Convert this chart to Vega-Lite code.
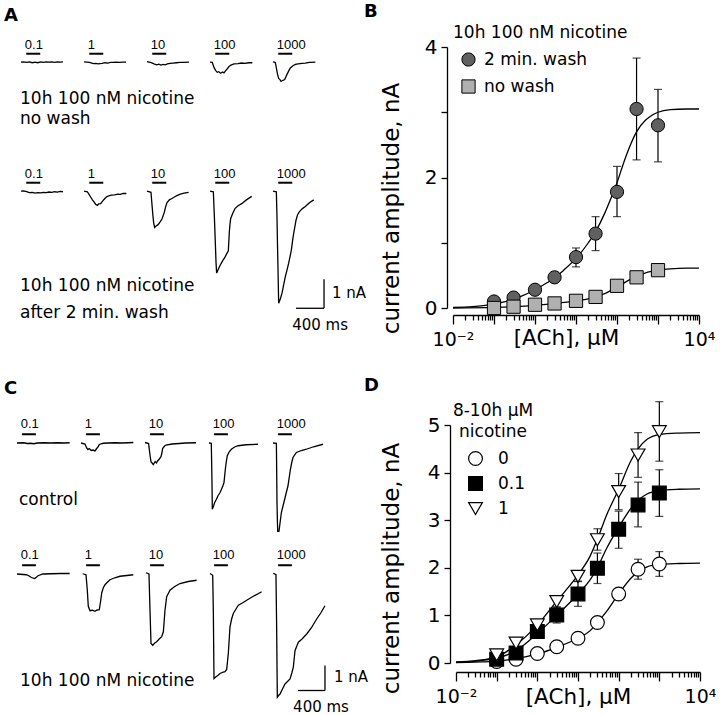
{
"$schema": "https://vega.github.io/schema/vega-lite/v6.json",
"background": "white",
"padding": {"left": 4, "top": 3, "right": 5, "bottom": 5},
"datasets": {
"A": [
{"c":"nw","k":"0.1","kind":"lab"},{"c":"nw","k":"1","kind":"lab"},{"c":"nw","k":"10","kind":"lab"},{"c":"nw","k":"100","kind":"lab"},{"c":"nw","k":"1000","kind":"lab"},
{"c":"w","k":"0.1","kind":"lab"},{"c":"w","k":"1","kind":"lab"},{"c":"w","k":"10","kind":"lab"},{"c":"w","k":"100","kind":"lab"},{"c":"w","k":"1000","kind":"lab"},
{"c":"nw","k":"0.1","kind":"note","txt":"10h 100 nM nicotine\nno wash"},
{"c":"w","k":"0.1","kind":"note","txt":"10h 100 nM nicotine\nafter 2 min. wash"},
{"c":"w","k":"1000","kind":"scale"},
{"c":"nw","k":"0.1","t":0,"i":0},{"c":"nw","k":"0.1","t":40,"i":0.01},{"c":"nw","k":"0.1","t":80,"i":-0.01},{"c":"nw","k":"0.1","t":120,"i":0.01},{"c":"nw","k":"0.1","t":160,"i":-0.02},{"c":"nw","k":"0.1","t":200,"i":0},{"c":"nw","k":"0.1","t":240,"i":-0.02},{"c":"nw","k":"0.1","t":280,"i":0.01},{"c":"nw","k":"0.1","t":320,"i":-0.01},{"c":"nw","k":"0.1","t":360,"i":0.01},{"c":"nw","k":"0.1","t":400,"i":0},{"c":"nw","k":"0.1","t":440,"i":0.01},{"c":"nw","k":"0.1","t":480,"i":-0.01},{"c":"nw","k":"0.1","t":520,"i":0.01},{"c":"nw","k":"0.1","t":560,"i":0},{"c":"nw","k":"0.1","t":600,"i":0.01},
{"c":"nw","k":"1","t":0,"i":0.01},{"c":"nw","k":"1","t":40,"i":0},{"c":"nw","k":"1","t":80,"i":-0.01},{"c":"nw","k":"1","t":110,"i":-0.03},{"c":"nw","k":"1","t":140,"i":-0.05},{"c":"nw","k":"1","t":170,"i":-0.04},{"c":"nw","k":"1","t":200,"i":-0.06},{"c":"nw","k":"1","t":230,"i":-0.05},{"c":"nw","k":"1","t":260,"i":-0.04},{"c":"nw","k":"1","t":300,"i":-0.02},{"c":"nw","k":"1","t":340,"i":-0.03},{"c":"nw","k":"1","t":380,"i":-0.01},{"c":"nw","k":"1","t":420,"i":-0.01},{"c":"nw","k":"1","t":460,"i":0},{"c":"nw","k":"1","t":500,"i":-0.01},{"c":"nw","k":"1","t":550,"i":0},{"c":"nw","k":"1","t":600,"i":0},
{"c":"nw","k":"10","t":0,"i":0.02},{"c":"nw","k":"10","t":30,"i":0},{"c":"nw","k":"10","t":60,"i":-0.02},{"c":"nw","k":"10","t":100,"i":-0.06},{"c":"nw","k":"10","t":140,"i":-0.09},{"c":"nw","k":"10","t":170,"i":-0.07},{"c":"nw","k":"10","t":200,"i":-0.1},{"c":"nw","k":"10","t":230,"i":-0.08},{"c":"nw","k":"10","t":260,"i":-0.09},{"c":"nw","k":"10","t":290,"i":-0.06},{"c":"nw","k":"10","t":330,"i":-0.04},{"c":"nw","k":"10","t":370,"i":-0.03},{"c":"nw","k":"10","t":420,"i":-0.02},{"c":"nw","k":"10","t":470,"i":-0.01},{"c":"nw","k":"10","t":520,"i":-0.01},{"c":"nw","k":"10","t":600,"i":0},
{"c":"nw","k":"100","t":0,"i":0},{"c":"nw","k":"100","t":33,"i":-0.01},{"c":"nw","k":"100","t":57,"i":-0.18},{"c":"nw","k":"100","t":80,"i":-0.28},{"c":"nw","k":"100","t":104,"i":-0.35},{"c":"nw","k":"100","t":125,"i":-0.33},{"c":"nw","k":"100","t":152,"i":-0.38},{"c":"nw","k":"100","t":180,"i":-0.34},{"c":"nw","k":"100","t":200,"i":-0.37},{"c":"nw","k":"100","t":224,"i":-0.29},{"c":"nw","k":"100","t":250,"i":-0.22},{"c":"nw","k":"100","t":271,"i":-0.15},{"c":"nw","k":"100","t":300,"i":-0.1},{"c":"nw","k":"100","t":343,"i":-0.06},{"c":"nw","k":"100","t":400,"i":-0.05},{"c":"nw","k":"100","t":450,"i":-0.03},{"c":"nw","k":"100","t":500,"i":-0.04},{"c":"nw","k":"100","t":550,"i":-0.02},{"c":"nw","k":"100","t":605,"i":-0.02},
{"c":"nw","k":"1000","t":0,"i":0.01},{"c":"nw","k":"1000","t":20,"i":0},{"c":"nw","k":"1000","t":34,"i":-0.02},{"c":"nw","k":"1000","t":48,"i":-0.2},{"c":"nw","k":"1000","t":65,"i":-0.42},{"c":"nw","k":"1000","t":81,"i":-0.56},{"c":"nw","k":"1000","t":100,"i":-0.6},{"c":"nw","k":"1000","t":115,"i":-0.66},{"c":"nw","k":"1000","t":129,"i":-0.64},{"c":"nw","k":"1000","t":150,"i":-0.62},{"c":"nw","k":"1000","t":167,"i":-0.6},{"c":"nw","k":"1000","t":185,"i":-0.5},{"c":"nw","k":"1000","t":200,"i":-0.42},{"c":"nw","k":"1000","t":225,"i":-0.3},{"c":"nw","k":"1000","t":248,"i":-0.2},{"c":"nw","k":"1000","t":280,"i":-0.13},{"c":"nw","k":"1000","t":319,"i":-0.08},{"c":"nw","k":"1000","t":360,"i":-0.06},{"c":"nw","k":"1000","t":414,"i":-0.04},{"c":"nw","k":"1000","t":460,"i":-0.03},{"c":"nw","k":"1000","t":520,"i":-0.01},{"c":"nw","k":"1000","t":605,"i":0},
{"c":"w","k":"0.1","t":0,"i":0},{"c":"w","k":"0.1","t":40,"i":0.01},{"c":"w","k":"0.1","t":80,"i":-0.02},{"c":"w","k":"0.1","t":120,"i":-0.05},{"c":"w","k":"0.1","t":160,"i":-0.04},{"c":"w","k":"0.1","t":200,"i":-0.07},{"c":"w","k":"0.1","t":240,"i":-0.05},{"c":"w","k":"0.1","t":280,"i":-0.06},{"c":"w","k":"0.1","t":320,"i":-0.04},{"c":"w","k":"0.1","t":360,"i":-0.05},{"c":"w","k":"0.1","t":400,"i":-0.03},{"c":"w","k":"0.1","t":440,"i":-0.04},{"c":"w","k":"0.1","t":480,"i":-0.02},{"c":"w","k":"0.1","t":520,"i":-0.03},{"c":"w","k":"0.1","t":560,"i":-0.01},{"c":"w","k":"0.1","t":600,"i":-0.02},
{"c":"w","k":"1","t":0,"i":0},{"c":"w","k":"1","t":47,"i":-0.02},{"c":"w","k":"1","t":70,"i":-0.1},{"c":"w","k":"1","t":95,"i":-0.2},{"c":"w","k":"1","t":120,"i":-0.3},{"c":"w","k":"1","t":143,"i":-0.37},{"c":"w","k":"1","t":165,"i":-0.45},{"c":"w","k":"1","t":190,"i":-0.49},{"c":"w","k":"1","t":210,"i":-0.44},{"c":"w","k":"1","t":238,"i":-0.43},{"c":"w","k":"1","t":265,"i":-0.34},{"c":"w","k":"1","t":295,"i":-0.26},{"c":"w","k":"1","t":320,"i":-0.2},{"c":"w","k":"1","t":343,"i":-0.17},{"c":"w","k":"1","t":390,"i":-0.14},{"c":"w","k":"1","t":438,"i":-0.13},{"c":"w","k":"1","t":480,"i":-0.1},{"c":"w","k":"1","t":520,"i":-0.11},{"c":"w","k":"1","t":560,"i":-0.08},{"c":"w","k":"1","t":605,"i":-0.08},
{"c":"w","k":"10","t":0,"i":0},{"c":"w","k":"10","t":57,"i":-0.04},{"c":"w","k":"10","t":71,"i":-0.45},{"c":"w","k":"10","t":85,"i":-0.85},{"c":"w","k":"10","t":95,"i":-1.08},{"c":"w","k":"10","t":109,"i":-1.25},{"c":"w","k":"10","t":130,"i":-1.2},{"c":"w","k":"10","t":150,"i":-1.17},{"c":"w","k":"10","t":166,"i":-1.13},{"c":"w","k":"10","t":190,"i":-1.05},{"c":"w","k":"10","t":214,"i":-0.96},{"c":"w","k":"10","t":230,"i":-0.85},{"c":"w","k":"10","t":247,"i":-0.73},{"c":"w","k":"10","t":265,"i":-0.55},{"c":"w","k":"10","t":286,"i":-0.39},{"c":"w","k":"10","t":320,"i":-0.3},{"c":"w","k":"10","t":350,"i":-0.26},{"c":"w","k":"10","t":381,"i":-0.22},{"c":"w","k":"10","t":420,"i":-0.16},{"c":"w","k":"10","t":476,"i":-0.1},{"c":"w","k":"10","t":530,"i":-0.07},{"c":"w","k":"10","t":595,"i":-0.04},
{"c":"w","k":"100","t":0,"i":0},{"c":"w","k":"100","t":48,"i":-0.02},{"c":"w","k":"100","t":62,"i":-0.84},{"c":"w","k":"100","t":75,"i":-1.7},{"c":"w","k":"100","t":86,"i":-2.45},{"c":"w","k":"100","t":95,"i":-2.82},{"c":"w","k":"100","t":120,"i":-2.68},{"c":"w","k":"100","t":143,"i":-2.56},{"c":"w","k":"100","t":180,"i":-2.4},{"c":"w","k":"100","t":214,"i":-2.27},{"c":"w","k":"100","t":240,"i":-2.15},{"c":"w","k":"100","t":262,"i":-2.05},{"c":"w","k":"100","t":276,"i":-1.41},{"c":"w","k":"100","t":285,"i":-1.15},{"c":"w","k":"100","t":295,"i":-0.95},{"c":"w","k":"100","t":325,"i":-0.76},{"c":"w","k":"100","t":357,"i":-0.6},{"c":"w","k":"100","t":400,"i":-0.5},{"c":"w","k":"100","t":453,"i":-0.43},{"c":"w","k":"100","t":520,"i":-0.3},{"c":"w","k":"100","t":596,"i":-0.18},
{"c":"w","k":"1000","t":0,"i":0},{"c":"w","k":"1000","t":48,"i":-0.02},{"c":"w","k":"1000","t":57,"i":-0.88},{"c":"w","k":"1000","t":64,"i":-1.8},{"c":"w","k":"1000","t":71,"i":-2.6},{"c":"w","k":"1000","t":81,"i":-3.86},{"c":"w","k":"1000","t":105,"i":-3.7},{"c":"w","k":"1000","t":129,"i":-3.51},{"c":"w","k":"1000","t":150,"i":-3.25},{"c":"w","k":"1000","t":176,"i":-2.94},{"c":"w","k":"1000","t":200,"i":-2.72},{"c":"w","k":"1000","t":224,"i":-2.48},{"c":"w","k":"1000","t":262,"i":-2.03},{"c":"w","k":"1000","t":280,"i":-1.7},{"c":"w","k":"1000","t":295,"i":-1.46},{"c":"w","k":"1000","t":329,"i":-1.0},{"c":"w","k":"1000","t":350,"i":-0.82},{"c":"w","k":"1000","t":376,"i":-0.71},{"c":"w","k":"1000","t":420,"i":-0.6},{"c":"w","k":"1000","t":462,"i":-0.53},{"c":"w","k":"1000","t":520,"i":-0.4},{"c":"w","k":"1000","t":581,"i":-0.3}
],
"C": [
{"c":"ctl","k":"0.1","kind":"lab"},{"c":"ctl","k":"1","kind":"lab"},{"c":"ctl","k":"10","kind":"lab"},{"c":"ctl","k":"100","kind":"lab"},{"c":"ctl","k":"1000","kind":"lab"},
{"c":"nic","k":"0.1","kind":"lab"},{"c":"nic","k":"1","kind":"lab"},{"c":"nic","k":"10","kind":"lab"},{"c":"nic","k":"100","kind":"lab"},{"c":"nic","k":"1000","kind":"lab"},
{"c":"ctl","k":"0.1","kind":"note","txt":"control"},
{"c":"nic","k":"0.1","kind":"note","txt":"10h 100 nM nicotine"},
{"c":"nic","k":"1000","kind":"scale"},
{"c":"ctl","k":"0.1","t":0,"i":0},{"c":"ctl","k":"0.1","t":100,"i":0.01},{"c":"ctl","k":"0.1","t":150,"i":-0.02},{"c":"ctl","k":"0.1","t":200,"i":-0.01},{"c":"ctl","k":"0.1","t":250,"i":-0.03},{"c":"ctl","k":"0.1","t":300,"i":0},{"c":"ctl","k":"0.1","t":400,"i":0.01},{"c":"ctl","k":"0.1","t":500,"i":0},{"c":"ctl","k":"0.1","t":600,"i":0.01},{"c":"ctl","k":"0.1","t":700,"i":0},{"c":"ctl","k":"0.1","t":780,"i":0.01},
{"c":"ctl","k":"1","t":0,"i":0},{"c":"ctl","k":"1","t":59,"i":-0.04},{"c":"ctl","k":"1","t":84,"i":-0.2},{"c":"ctl","k":"1","t":103,"i":-0.26},{"c":"ctl","k":"1","t":123,"i":-0.22},{"c":"ctl","k":"1","t":150,"i":-0.3},{"c":"ctl","k":"1","t":182,"i":-0.28},{"c":"ctl","k":"1","t":205,"i":-0.32},{"c":"ctl","k":"1","t":232,"i":-0.22},{"c":"ctl","k":"1","t":255,"i":-0.15},{"c":"ctl","k":"1","t":271,"i":-0.06},{"c":"ctl","k":"1","t":300,"i":-0.03},{"c":"ctl","k":"1","t":331,"i":-0.01},{"c":"ctl","k":"1","t":400,"i":0},{"c":"ctl","k":"1","t":500,"i":0.01},{"c":"ctl","k":"1","t":600,"i":0},{"c":"ctl","k":"1","t":700,"i":0.01},{"c":"ctl","k":"1","t":775,"i":0.02},
{"c":"ctl","k":"10","t":0,"i":0.02},{"c":"ctl","k":"10","t":53,"i":-0.02},{"c":"ctl","k":"10","t":74,"i":-0.48},{"c":"ctl","k":"10","t":89,"i":-0.75},{"c":"ctl","k":"10","t":105,"i":-0.8},{"c":"ctl","k":"10","t":123,"i":-0.86},{"c":"ctl","k":"10","t":150,"i":-0.74},{"c":"ctl","k":"10","t":170,"i":-0.8},{"c":"ctl","k":"10","t":187,"i":-0.72},{"c":"ctl","k":"10","t":210,"i":-0.65},{"c":"ctl","k":"10","t":237,"i":-0.55},{"c":"ctl","k":"10","t":250,"i":-0.4},{"c":"ctl","k":"10","t":261,"i":-0.22},{"c":"ctl","k":"10","t":290,"i":-0.12},{"c":"ctl","k":"10","t":311,"i":-0.08},{"c":"ctl","k":"10","t":400,"i":-0.04},{"c":"ctl","k":"10","t":508,"i":-0.02},{"c":"ctl","k":"10","t":600,"i":0},{"c":"ctl","k":"10","t":755,"i":0.01},
{"c":"ctl","k":"100","t":0,"i":0},{"c":"ctl","k":"100","t":34,"i":-0.01},{"c":"ctl","k":"100","t":44,"i":-1.5},{"c":"ctl","k":"100","t":49,"i":-2.65},{"c":"ctl","k":"100","t":70,"i":-2.5},{"c":"ctl","k":"100","t":84,"i":-2.38},{"c":"ctl","k":"100","t":110,"i":-2.25},{"c":"ctl","k":"100","t":133,"i":-2.11},{"c":"ctl","k":"100","t":160,"i":-2.0},{"c":"ctl","k":"100","t":182,"i":-1.87},{"c":"ctl","k":"100","t":205,"i":-1.72},{"c":"ctl","k":"100","t":222,"i":-1.58},{"c":"ctl","k":"100","t":242,"i":-1.05},{"c":"ctl","k":"100","t":256,"i":-0.75},{"c":"ctl","k":"100","t":271,"i":-0.51},{"c":"ctl","k":"100","t":300,"i":-0.35},{"c":"ctl","k":"100","t":331,"i":-0.25},{"c":"ctl","k":"100","t":380,"i":-0.16},{"c":"ctl","k":"100","t":430,"i":-0.11},{"c":"ctl","k":"100","t":550,"i":-0.07},{"c":"ctl","k":"100","t":726,"i":-0.05},
{"c":"ctl","k":"1000","t":0,"i":0},{"c":"ctl","k":"1000","t":50,"i":-0.01},{"c":"ctl","k":"1000","t":55,"i":-1.2},{"c":"ctl","k":"1000","t":59,"i":-2.38},{"c":"ctl","k":"1000","t":66,"i":-3.2},{"c":"ctl","k":"1000","t":74,"i":-3.85},{"c":"ctl","k":"1000","t":85,"i":-3.6},{"c":"ctl","k":"1000","t":99,"i":-3.31},{"c":"ctl","k":"1000","t":124,"i":-2.78},{"c":"ctl","k":"1000","t":150,"i":-2.5},{"c":"ctl","k":"1000","t":173,"i":-2.25},{"c":"ctl","k":"1000","t":200,"i":-1.95},{"c":"ctl","k":"1000","t":222,"i":-1.71},{"c":"ctl","k":"1000","t":258,"i":-1.05},{"c":"ctl","k":"1000","t":280,"i":-0.75},{"c":"ctl","k":"1000","t":296,"i":-0.58},{"c":"ctl","k":"1000","t":347,"i":-0.38},{"c":"ctl","k":"1000","t":420,"i":-0.3},{"c":"ctl","k":"1000","t":495,"i":-0.25},{"c":"ctl","k":"1000","t":600,"i":-0.15},{"c":"ctl","k":"1000","t":741,"i":-0.05},
{"c":"nic","k":"0.1","t":0,"i":0},{"c":"nic","k":"0.1","t":139,"i":-0.03},{"c":"nic","k":"0.1","t":180,"i":-0.08},{"c":"nic","k":"0.1","t":213,"i":-0.14},{"c":"nic","k":"0.1","t":262,"i":-0.18},{"c":"nic","k":"0.1","t":290,"i":-0.12},{"c":"nic","k":"0.1","t":311,"i":-0.07},{"c":"nic","k":"0.1","t":385,"i":0},{"c":"nic","k":"0.1","t":500,"i":0.01},{"c":"nic","k":"0.1","t":650,"i":0.02},{"c":"nic","k":"0.1","t":780,"i":0.02},
{"c":"nic","k":"1","t":25,"i":0.01},{"c":"nic","k":"1","t":74,"i":-0.03},{"c":"nic","k":"1","t":93,"i":-0.63},{"c":"nic","k":"1","t":108,"i":-1.29},{"c":"nic","k":"1","t":133,"i":-1.47},{"c":"nic","k":"1","t":170,"i":-1.45},{"c":"nic","k":"1","t":207,"i":-1.49},{"c":"nic","k":"1","t":240,"i":-1.44},{"c":"nic","k":"1","t":271,"i":-1.43},{"c":"nic","k":"1","t":290,"i":-1.1},{"c":"nic","k":"1","t":307,"i":-0.76},{"c":"nic","k":"1","t":330,"i":-0.55},{"c":"nic","k":"1","t":356,"i":-0.43},{"c":"nic","k":"1","t":390,"i":-0.33},{"c":"nic","k":"1","t":430,"i":-0.23},{"c":"nic","k":"1","t":500,"i":-0.15},{"c":"nic","k":"1","t":578,"i":-0.09},{"c":"nic","k":"1","t":680,"i":-0.06},{"c":"nic","k":"1","t":775,"i":-0.03},
{"c":"nic","k":"10","t":15,"i":0.05},{"c":"nic","k":"10","t":59,"i":0},{"c":"nic","k":"10","t":74,"i":-1.45},{"c":"nic","k":"10","t":89,"i":-2.78},{"c":"nic","k":"10","t":114,"i":-2.85},{"c":"nic","k":"10","t":145,"i":-2.76},{"c":"nic","k":"10","t":173,"i":-2.71},{"c":"nic","k":"10","t":210,"i":-2.6},{"c":"nic","k":"10","t":247,"i":-2.51},{"c":"nic","k":"10","t":272,"i":-2.31},{"c":"nic","k":"10","t":296,"i":-1.45},{"c":"nic","k":"10","t":321,"i":-0.91},{"c":"nic","k":"10","t":345,"i":-0.78},{"c":"nic","k":"10","t":370,"i":-0.65},{"c":"nic","k":"10","t":440,"i":-0.5},{"c":"nic","k":"10","t":518,"i":-0.38},{"c":"nic","k":"10","t":640,"i":-0.3},{"c":"nic","k":"10","t":765,"i":-0.25},
{"c":"nic","k":"100","t":15,"i":0.02},{"c":"nic","k":"100","t":55,"i":-0.05},{"c":"nic","k":"100","t":64,"i":-1.45},{"c":"nic","k":"100","t":74,"i":-4.18},{"c":"nic","k":"100","t":104,"i":-4.11},{"c":"nic","k":"100","t":135,"i":-4.05},{"c":"nic","k":"100","t":163,"i":-3.98},{"c":"nic","k":"100","t":200,"i":-3.93},{"c":"nic","k":"100","t":237,"i":-3.91},{"c":"nic","k":"100","t":262,"i":-3.82},{"c":"nic","k":"100","t":286,"i":-3.18},{"c":"nic","k":"100","t":311,"i":-2.11},{"c":"nic","k":"100","t":335,"i":-1.8},{"c":"nic","k":"100","t":360,"i":-1.58},{"c":"nic","k":"100","t":400,"i":-1.4},{"c":"nic","k":"100","t":435,"i":-1.25},{"c":"nic","k":"100","t":500,"i":-1.15},{"c":"nic","k":"100","t":558,"i":-1.05},{"c":"nic","k":"100","t":650,"i":-0.9},{"c":"nic","k":"100","t":780,"i":-0.71},
{"c":"nic","k":"1000","t":4,"i":0.03},{"c":"nic","k":"1000","t":44,"i":-0.03},{"c":"nic","k":"1000","t":54,"i":-2.13},{"c":"nic","k":"1000","t":64,"i":-4.93},{"c":"nic","k":"1000","t":85,"i":-4.85},{"c":"nic","k":"1000","t":104,"i":-4.8},{"c":"nic","k":"1000","t":140,"i":-4.6},{"c":"nic","k":"1000","t":178,"i":-4.4},{"c":"nic","k":"1000","t":215,"i":-4.3},{"c":"nic","k":"1000","t":252,"i":-4.2},{"c":"nic","k":"1000","t":280,"i":-3.95},{"c":"nic","k":"1000","t":301,"i":-3.73},{"c":"nic","k":"1000","t":326,"i":-3.07},{"c":"nic","k":"1000","t":350,"i":-2.9},{"c":"nic","k":"1000","t":376,"i":-2.73},{"c":"nic","k":"1000","t":430,"i":-2.6},{"c":"nic","k":"1000","t":499,"i":-2.4},{"c":"nic","k":"1000","t":570,"i":-2.15},{"c":"nic","k":"1000","t":647,"i":-1.8},{"c":"nic","k":"1000","t":710,"i":-1.55},{"c":"nic","k":"1000","t":770,"i":-1.27}
],
"Bpts": [
{"g":"2 min. wash","x":0.1,"y":0.1},{"g":"2 min. wash","x":0.3,"y":0.16},{"g":"2 min. wash","x":1,"y":0.28},{"g":"2 min. wash","x":3,"y":0.47},
{"g":"2 min. wash","x":10,"y":0.78,"lo":0.63,"hi":0.92},{"g":"2 min. wash","x":30,"y":1.14,"lo":0.88,"hi":1.4},{"g":"2 min. wash","x":100,"y":1.78,"lo":1.4,"hi":2.17},{"g":"2 min. wash","x":300,"y":3.05,"lo":2.27,"hi":3.83},{"g":"2 min. wash","x":1000,"y":2.8,"lo":2.24,"hi":3.35},
{"g":"no wash","x":0.1,"y":0.0},{"g":"no wash","x":0.3,"y":0.02},{"g":"no wash","x":1,"y":0.05},{"g":"no wash","x":3,"y":0.07},{"g":"no wash","x":10,"y":0.11},{"g":"no wash","x":30,"y":0.17},{"g":"no wash","x":100,"y":0.34},{"g":"no wash","x":300,"y":0.47},{"g":"no wash","x":1000,"y":0.58}
],
"Bfit": [
{"g":"2 min. wash","x":0.01,"y":0.01},{"g":"2 min. wash","x":0.03,"y":0.02},{"g":"2 min. wash","x":0.1,"y":0.06},{"g":"2 min. wash","x":0.2,"y":0.1},{"g":"2 min. wash","x":0.3,"y":0.14},{"g":"2 min. wash","x":0.5,"y":0.19},{"g":"2 min. wash","x":1,"y":0.28},{"g":"2 min. wash","x":2,"y":0.39},{"g":"2 min. wash","x":3,"y":0.46},{"g":"2 min. wash","x":5,"y":0.58},{"g":"2 min. wash","x":10,"y":0.76},{"g":"2 min. wash","x":20,"y":1.0},{"g":"2 min. wash","x":30,"y":1.17},{"g":"2 min. wash","x":50,"y":1.45},{"g":"2 min. wash","x":70,"y":1.67},{"g":"2 min. wash","x":100,"y":1.92},{"g":"2 min. wash","x":150,"y":2.25},{"g":"2 min. wash","x":200,"y":2.46},{"g":"2 min. wash","x":300,"y":2.7},{"g":"2 min. wash","x":500,"y":2.88},{"g":"2 min. wash","x":700,"y":2.95},{"g":"2 min. wash","x":1000,"y":3.0},{"g":"2 min. wash","x":2000,"y":3.04},{"g":"2 min. wash","x":5000,"y":3.05},{"g":"2 min. wash","x":10000,"y":3.05},
{"g":"no wash","x":0.01,"y":0.0},{"g":"no wash","x":0.1,"y":0.01},{"g":"no wash","x":0.3,"y":0.02},{"g":"no wash","x":1,"y":0.04},{"g":"no wash","x":3,"y":0.07},{"g":"no wash","x":10,"y":0.11},{"g":"no wash","x":20,"y":0.14},{"g":"no wash","x":30,"y":0.17},{"g":"no wash","x":50,"y":0.22},{"g":"no wash","x":100,"y":0.32},{"g":"no wash","x":200,"y":0.43},{"g":"no wash","x":300,"y":0.48},{"g":"no wash","x":500,"y":0.54},{"g":"no wash","x":1000,"y":0.58},{"g":"no wash","x":2000,"y":0.6},{"g":"no wash","x":5000,"y":0.61},{"g":"no wash","x":10000,"y":0.61}
],
"Dpts": [
{"g":"0","x":0.1,"y":0.03},{"g":"0","x":0.3,"y":0.08},{"g":"0","x":1,"y":0.2},{"g":"0","x":3,"y":0.34},{"g":"0","x":10,"y":0.52},{"g":"0","x":30,"y":0.85},{"g":"0","x":100,"y":1.45,"lo":1.36,"hi":1.54},{"g":"0","x":300,"y":1.97,"lo":1.76,"hi":2.18},{"g":"0","x":1000,"y":2.08,"lo":1.82,"hi":2.34},
{"g":"0.1","x":0.1,"y":0.08},{"g":"0.1","x":0.3,"y":0.21},{"g":"0.1","x":1,"y":0.66},{"g":"0.1","x":3,"y":1.01,"lo":0.84,"hi":1.17},{"g":"0.1","x":10,"y":1.45,"lo":1.19,"hi":1.71},{"g":"0.1","x":30,"y":1.99,"lo":1.67,"hi":2.31},{"g":"0.1","x":100,"y":2.81,"lo":2.41,"hi":3.19},{"g":"0.1","x":300,"y":3.32,"lo":2.86,"hi":3.8},{"g":"0.1","x":1000,"y":3.57,"lo":3.08,"hi":4.06},
{"g":"1","x":0.1,"y":0.17},{"g":"1","x":0.3,"y":0.42},{"g":"1","x":1,"y":0.8},{"g":"1","x":3,"y":1.29,"lo":1.18,"hi":1.4},{"g":"1","x":10,"y":1.82,"lo":1.72,"hi":1.93},{"g":"1","x":30,"y":2.59,"lo":2.37,"hi":2.82},{"g":"1","x":100,"y":3.6,"lo":3.22,"hi":3.98},{"g":"1","x":300,"y":4.37,"lo":3.9,"hi":4.84},{"g":"1","x":1000,"y":4.86,"lo":4.24,"hi":5.49}
],
"Dfit": [
{"g":"0","x":0.01,"y":0.01},{"g":"0","x":0.03,"y":0.02},{"g":"0","x":0.1,"y":0.04},{"g":"0","x":0.3,"y":0.09},{"g":"0","x":1,"y":0.19},{"g":"0","x":3,"y":0.33},{"g":"0","x":10,"y":0.52},{"g":"0","x":20,"y":0.68},{"g":"0","x":30,"y":0.85},{"g":"0","x":50,"y":1.08},{"g":"0","x":100,"y":1.45},{"g":"0","x":200,"y":1.78},{"g":"0","x":300,"y":1.92},{"g":"0","x":500,"y":2.02},{"g":"0","x":1000,"y":2.07},{"g":"0","x":3000,"y":2.09},{"g":"0","x":10000,"y":2.1},
{"g":"0.1","x":0.01,"y":0.02},{"g":"0.1","x":0.03,"y":0.04},{"g":"0.1","x":0.1,"y":0.1},{"g":"0.1","x":0.3,"y":0.26},{"g":"0.1","x":1,"y":0.62},{"g":"0.1","x":3,"y":1.0},{"g":"0.1","x":10,"y":1.45},{"g":"0.1","x":20,"y":1.75},{"g":"0.1","x":30,"y":2.0},{"g":"0.1","x":50,"y":2.4},{"g":"0.1","x":100,"y":2.85},{"g":"0.1","x":200,"y":3.25},{"g":"0.1","x":300,"y":3.42},{"g":"0.1","x":500,"y":3.55},{"g":"0.1","x":1000,"y":3.62},{"g":"0.1","x":3000,"y":3.65},{"g":"0.1","x":10000,"y":3.66},
{"g":"1","x":0.01,"y":0.02},{"g":"1","x":0.03,"y":0.05},{"g":"1","x":0.1,"y":0.13},{"g":"1","x":0.3,"y":0.38},{"g":"1","x":1,"y":0.8},{"g":"1","x":3,"y":1.3},{"g":"1","x":10,"y":1.85},{"g":"1","x":20,"y":2.25},{"g":"1","x":30,"y":2.6},{"g":"1","x":50,"y":3.1},{"g":"1","x":100,"y":3.65},{"g":"1","x":200,"y":4.25},{"g":"1","x":300,"y":4.5},{"g":"1","x":500,"y":4.7},{"g":"1","x":1000,"y":4.8},{"g":"1","x":3000,"y":4.83},{"g":"1","x":10000,"y":4.84}
]
},
"vconcat": [
{
"hconcat": [
{
"title": {"text": "A", "dx": -13, "offset": 11},
"data": {"name": "A"},
"vconcat": [
{"hconcat": [
{"width": 46, "height": 127, "transform": [{"filter": "datum.c == 'nw' && datum.k == '0.1'"}], "layer": [
{"transform": [{"filter": "isValid(datum.t)"}], "mark": {"type": "line", "style": "trace"}, "encoding": {"x": {"field": "t", "type": "quantitative", "scale": {"domain": [-57, 600], "nice": false, "zero": false}, "axis": null}, "y": {"field": "i", "type": "quantitative", "scale": {"domain": [-3.47, 0.9], "nice": false, "zero": false}, "axis": null}}},
{"transform": [{"filter": "datum.kind == 'lab'"}], "mark": {"type": "rule", "style": "appl"}, "encoding": {"x": {"datum": 75, "axis": null}, "x2": {"datum": 275}, "y": {"datum": 0.29, "axis": null}}},
{"transform": [{"filter": "datum.kind == 'lab'"}], "mark": {"type": "text", "style": "conc"}, "encoding": {"x": {"datum": 55, "axis": null}, "y": {"datum": 0.58, "axis": null}, "text": {"field": "k", "type": "nominal"}}},
{"transform": [{"filter": "datum.kind == 'note'"}], "mark": {"type": "text", "style": "note", "lineBreak": "\n", "lineHeight": 20}, "encoding": {"x": {"datum": -14, "axis": null}, "y": {"datum": -1.43, "axis": null}, "text": {"field": "txt", "type": "nominal"}}}
]},
{"width": 46, "height": 127, "transform": [{"filter": "datum.c == 'nw' && datum.k == '1'"}], "layer": [
{"transform": [{"filter": "isValid(datum.t)"}], "mark": {"type": "line", "style": "trace"}, "encoding": {"x": {"field": "t", "type": "quantitative", "scale": {"domain": [-57, 600], "nice": false, "zero": false}, "axis": null}, "y": {"field": "i", "type": "quantitative", "scale": {"domain": [-3.47, 0.9], "nice": false, "zero": false}, "axis": null}}},
{"transform": [{"filter": "datum.kind == 'lab'"}], "mark": {"type": "rule", "style": "appl"}, "encoding": {"x": {"datum": 75, "axis": null}, "x2": {"datum": 275}, "y": {"datum": 0.29, "axis": null}}},
{"transform": [{"filter": "datum.kind == 'lab'"}], "mark": {"type": "text", "style": "conc"}, "encoding": {"x": {"datum": 55, "axis": null}, "y": {"datum": 0.58, "axis": null}, "text": {"field": "k", "type": "nominal"}}}
]},
{"width": 46, "height": 127, "transform": [{"filter": "datum.c == 'nw' && datum.k == '10'"}], "layer": [
{"transform": [{"filter": "isValid(datum.t)"}], "mark": {"type": "line", "style": "trace"}, "encoding": {"x": {"field": "t", "type": "quantitative", "scale": {"domain": [-57, 600], "nice": false, "zero": false}, "axis": null}, "y": {"field": "i", "type": "quantitative", "scale": {"domain": [-3.47, 0.9], "nice": false, "zero": false}, "axis": null}}},
{"transform": [{"filter": "datum.kind == 'lab'"}], "mark": {"type": "rule", "style": "appl"}, "encoding": {"x": {"datum": 75, "axis": null}, "x2": {"datum": 275}, "y": {"datum": 0.29, "axis": null}}},
{"transform": [{"filter": "datum.kind == 'lab'"}], "mark": {"type": "text", "style": "conc"}, "encoding": {"x": {"datum": 55, "axis": null}, "y": {"datum": 0.58, "axis": null}, "text": {"field": "k", "type": "nominal"}}}
]},
{"width": 46, "height": 127, "transform": [{"filter": "datum.c == 'nw' && datum.k == '100'"}], "layer": [
{"transform": [{"filter": "isValid(datum.t)"}], "mark": {"type": "line", "style": "trace"}, "encoding": {"x": {"field": "t", "type": "quantitative", "scale": {"domain": [-57, 600], "nice": false, "zero": false}, "axis": null}, "y": {"field": "i", "type": "quantitative", "scale": {"domain": [-3.47, 0.9], "nice": false, "zero": false}, "axis": null}}},
{"transform": [{"filter": "datum.kind == 'lab'"}], "mark": {"type": "rule", "style": "appl"}, "encoding": {"x": {"datum": 75, "axis": null}, "x2": {"datum": 275}, "y": {"datum": 0.29, "axis": null}}},
{"transform": [{"filter": "datum.kind == 'lab'"}], "mark": {"type": "text", "style": "conc"}, "encoding": {"x": {"datum": 55, "axis": null}, "y": {"datum": 0.58, "axis": null}, "text": {"field": "k", "type": "nominal"}}}
]},
{"width": 46, "height": 127, "transform": [{"filter": "datum.c == 'nw' && datum.k == '1000'"}], "layer": [
{"transform": [{"filter": "isValid(datum.t)"}], "mark": {"type": "line", "style": "trace"}, "encoding": {"x": {"field": "t", "type": "quantitative", "scale": {"domain": [-57, 600], "nice": false, "zero": false}, "axis": null}, "y": {"field": "i", "type": "quantitative", "scale": {"domain": [-3.47, 0.9], "nice": false, "zero": false}, "axis": null}}},
{"transform": [{"filter": "datum.kind == 'lab'"}], "mark": {"type": "rule", "style": "appl"}, "encoding": {"x": {"datum": 75, "axis": null}, "x2": {"datum": 275}, "y": {"datum": 0.29, "axis": null}}},
{"transform": [{"filter": "datum.kind == 'lab'"}], "mark": {"type": "text", "style": "conc"}, "encoding": {"x": {"datum": 55, "axis": null}, "y": {"datum": 0.58, "axis": null}, "text": {"field": "k", "type": "nominal"}}}
]}
], "spacing": 17, "bounds": "flush", "resolve": {"scale": {"x": "independent", "y": "independent"}}},
{"hconcat": [
{"width": 46, "height": 127, "transform": [{"filter": "datum.c == 'w' && datum.k == '0.1'"}], "layer": [
{"transform": [{"filter": "isValid(datum.t)"}], "mark": {"type": "line", "style": "trace"}, "encoding": {"x": {"field": "t", "type": "quantitative", "scale": {"domain": [-57, 600], "nice": false, "zero": false}, "axis": null}, "y": {"field": "i", "type": "quantitative", "scale": {"domain": [-3.47, 0.9], "nice": false, "zero": false}, "axis": null}}},
{"transform": [{"filter": "datum.kind == 'lab'"}], "mark": {"type": "rule", "style": "appl"}, "encoding": {"x": {"datum": 75, "axis": null}, "x2": {"datum": 275}, "y": {"datum": 0.29, "axis": null}}},
{"transform": [{"filter": "datum.kind == 'lab'"}], "mark": {"type": "text", "style": "conc"}, "encoding": {"x": {"datum": 55, "axis": null}, "y": {"datum": 0.58, "axis": null}, "text": {"field": "k", "type": "nominal"}}},
{"transform": [{"filter": "datum.kind == 'note'"}], "mark": {"type": "text", "style": "note", "lineBreak": "\n", "lineHeight": 27}, "encoding": {"x": {"datum": -14, "axis": null}, "y": {"datum": -3.44, "axis": null}, "text": {"field": "txt", "type": "nominal"}}}
]},
{"width": 46, "height": 127, "transform": [{"filter": "datum.c == 'w' && datum.k == '1'"}], "layer": [
{"transform": [{"filter": "isValid(datum.t)"}], "mark": {"type": "line", "style": "trace"}, "encoding": {"x": {"field": "t", "type": "quantitative", "scale": {"domain": [-57, 600], "nice": false, "zero": false}, "axis": null}, "y": {"field": "i", "type": "quantitative", "scale": {"domain": [-3.47, 0.9], "nice": false, "zero": false}, "axis": null}}},
{"transform": [{"filter": "datum.kind == 'lab'"}], "mark": {"type": "rule", "style": "appl"}, "encoding": {"x": {"datum": 75, "axis": null}, "x2": {"datum": 275}, "y": {"datum": 0.29, "axis": null}}},
{"transform": [{"filter": "datum.kind == 'lab'"}], "mark": {"type": "text", "style": "conc"}, "encoding": {"x": {"datum": 55, "axis": null}, "y": {"datum": 0.58, "axis": null}, "text": {"field": "k", "type": "nominal"}}}
]},
{"width": 46, "height": 127, "transform": [{"filter": "datum.c == 'w' && datum.k == '10'"}], "layer": [
{"transform": [{"filter": "isValid(datum.t)"}], "mark": {"type": "line", "style": "trace"}, "encoding": {"x": {"field": "t", "type": "quantitative", "scale": {"domain": [-57, 600], "nice": false, "zero": false}, "axis": null}, "y": {"field": "i", "type": "quantitative", "scale": {"domain": [-3.47, 0.9], "nice": false, "zero": false}, "axis": null}}},
{"transform": [{"filter": "datum.kind == 'lab'"}], "mark": {"type": "rule", "style": "appl"}, "encoding": {"x": {"datum": 75, "axis": null}, "x2": {"datum": 275}, "y": {"datum": 0.29, "axis": null}}},
{"transform": [{"filter": "datum.kind == 'lab'"}], "mark": {"type": "text", "style": "conc"}, "encoding": {"x": {"datum": 55, "axis": null}, "y": {"datum": 0.58, "axis": null}, "text": {"field": "k", "type": "nominal"}}}
]},
{"width": 46, "height": 127, "transform": [{"filter": "datum.c == 'w' && datum.k == '100'"}], "layer": [
{"transform": [{"filter": "isValid(datum.t)"}], "mark": {"type": "line", "style": "trace"}, "encoding": {"x": {"field": "t", "type": "quantitative", "scale": {"domain": [-57, 600], "nice": false, "zero": false}, "axis": null}, "y": {"field": "i", "type": "quantitative", "scale": {"domain": [-3.47, 0.9], "nice": false, "zero": false}, "axis": null}}},
{"transform": [{"filter": "datum.kind == 'lab'"}], "mark": {"type": "rule", "style": "appl"}, "encoding": {"x": {"datum": 75, "axis": null}, "x2": {"datum": 275}, "y": {"datum": 0.29, "axis": null}}},
{"transform": [{"filter": "datum.kind == 'lab'"}], "mark": {"type": "text", "style": "conc"}, "encoding": {"x": {"datum": 55, "axis": null}, "y": {"datum": 0.58, "axis": null}, "text": {"field": "k", "type": "nominal"}}}
]},
{"width": 46, "height": 127, "transform": [{"filter": "datum.c == 'w' && datum.k == '1000'"}], "layer": [
{"transform": [{"filter": "isValid(datum.t)"}], "mark": {"type": "line", "style": "trace"}, "encoding": {"x": {"field": "t", "type": "quantitative", "scale": {"domain": [-57, 600], "nice": false, "zero": false}, "axis": null}, "y": {"field": "i", "type": "quantitative", "scale": {"domain": [-3.47, 0.9], "nice": false, "zero": false}, "axis": null}}},
{"transform": [{"filter": "datum.kind == 'lab'"}], "mark": {"type": "rule", "style": "appl"}, "encoding": {"x": {"datum": 75, "axis": null}, "x2": {"datum": 275}, "y": {"datum": 0.29, "axis": null}}},
{"transform": [{"filter": "datum.kind == 'lab'"}], "mark": {"type": "text", "style": "conc"}, "encoding": {"x": {"datum": 55, "axis": null}, "y": {"datum": 0.58, "axis": null}, "text": {"field": "k", "type": "nominal"}}},
{"transform": [{"filter": "datum.kind == 'scale'"}], "mark": {"type": "rule", "style": "sbar"}, "encoding": {"x": {"datum": 729, "axis": null}, "y": {"datum": -3.03, "axis": null}, "y2": {"datum": -4.03}}},
{"transform": [{"filter": "datum.kind == 'scale'"}], "mark": {"type": "rule", "style": "sbar"}, "encoding": {"x": {"datum": 329, "axis": null}, "x2": {"datum": 729}, "y": {"datum": -4.03, "axis": null}}},
{"transform": [{"filter": "datum.kind == 'scale'"}], "mark": {"type": "text", "style": "stext", "align": "left"}, "encoding": {"x": {"datum": 843, "axis": null}, "y": {"datum": -3.5, "axis": null}, "text": {"value": "1 nA"}}},
{"transform": [{"filter": "datum.kind == 'scale'"}], "mark": {"type": "text", "style": "stext", "align": "center"}, "encoding": {"x": {"datum": 672, "axis": null}, "y": {"datum": -4.6, "axis": null}, "text": {"value": "400 ms"}}}
]}
], "spacing": 17, "bounds": "flush", "resolve": {"scale": {"x": "independent", "y": "independent"}}}
],
"spacing": 0, "resolve": {"scale": {"x": "independent", "y": "independent"}}
},
{
"title": {"text": "B", "dx": -89, "offset": 4},
"vconcat": [
{"width": 246, "height": 1, "data": {"values": [{"s": 0}]}, "mark": {"type": "point", "opacity": 0}, "encoding": {}},
{
"width": 246, "height": 261,
"encoding": {
"x": {"field": "x", "type": "quantitative", "title": "[ACh], μM",
"scale": {"type": "log", "domain": [0.01, 10000], "nice": false},
"axis": {"values": [0.01,0.02,0.03,0.04,0.05,0.06,0.07,0.08,0.09,0.1,0.2,0.3,0.4,0.5,0.6,0.7,0.8,0.9,1,2,3,4,5,6,7,8,9,10,20,30,40,50,60,70,80,90,100,200,300,400,500,600,700,800,900,1000,2000,3000,4000,5000,6000,7000,8000,9000,10000],
"offset": 7, "tickSize": {"condition": {"test": "indexof([0.01,0.1,1,10,100,1000,10000], datum.value) >= 0", "value": 9}, "value": 5},
"labelExpr": "datum.value == 0.01 ? '10⁻²' : (datum.value == 10000 ? '10⁴' : '')",
"labelFlush": false, "labelOverlap": false, "labelPadding": 6, "labelFontSize": 19,
"titleX": 113, "titleY": 23, "titleBaseline": "middle", "titleFontSize": 21.5}}
},
"layer": [
{"data": {"name": "Bfit"}, "mark": {"type": "line", "color": "#000", "strokeWidth": 1.3, "interpolate": "monotone"},
"encoding": {"y": {"field": "y", "type": "quantitative", "title": "current amplitude, nA", "scale": {"domain": [0, 4], "nice": false},
"axis": {"values": [0, 1, 2, 3, 4], "labelExpr": "datum.value % 2 == 0 ? format(datum.value, 'd') : ''", "offset": 6, "tickSize": 6, "labelPadding": 4, "titleX": -44, "titleY": 161, "titleFontSize": 23}},
"detail": {"field": "g", "type": "nominal"}}},
{"data": {"name": "Bpts"}, "transform": [{"filter": "isValid(datum.lo)"}], "mark": {"type": "errorbar", "color": "#000", "ticks": {"size": 8, "thickness": 1.2}, "rule": {"strokeWidth": 1.2}},
"encoding": {"y": {"field": "lo", "type": "quantitative", "title": "current amplitude, nA"}, "y2": {"field": "hi"}}},
{"data": {"name": "Bpts"}, "mark": {"type": "point", "filled": true, "strokeWidth": 1, "opacity": 1, "size": 175},
"encoding": {"y": {"field": "y", "type": "quantitative", "title": "current amplitude, nA"},
"shape": {"field": "g", "type": "nominal", "scale": {"domain": ["2 min. wash", "no wash"], "range": ["circle", "square"]},
"legend": {"title": "10h 100 nM nicotine", "orient": "none", "legendX": 0, "legendY": -11, "symbolSize": 175, "symbolOffset": 7, "labelOffset": 7, "rowPadding": 8, "titlePadding": 9, "padding": 0, "symbolStrokeWidth": 1}},
"fill": {"field": "g", "type": "nominal", "scale": {"domain": ["2 min. wash", "no wash"], "range": ["#606060", "#b0b0b0"]},
"legend": {"title": "10h 100 nM nicotine", "orient": "none", "legendX": 0, "legendY": -11, "symbolSize": 175, "symbolOffset": 7, "labelOffset": 7, "rowPadding": 8, "titlePadding": 9, "padding": 0, "symbolStrokeWidth": 1}},
"stroke": {"field": "g", "type": "nominal", "scale": {"domain": ["2 min. wash", "no wash"], "range": ["#000000", "#000000"]},
"legend": {"title": "10h 100 nM nicotine", "orient": "none", "legendX": 0, "legendY": -11, "symbolSize": 175, "symbolOffset": 7, "labelOffset": 7, "rowPadding": 8, "titlePadding": 9, "padding": 0, "symbolStrokeWidth": 1}}}}
]
}
],
"spacing": -4
}
],
"spacing": -3,
"resolve": {"scale": {"x": "independent", "y": "independent", "shape": "independent", "fill": "independent", "stroke": "independent"}, "legend": {"shape": "independent", "fill": "independent", "stroke": "independent"}}
},
{
"hconcat": [
{
"title": {"text": "C", "dx": -13, "offset": 5},
"data": {"name": "C"},
"vconcat": [
{"hconcat": [
{"width": 54, "height": 129, "transform": [{"filter": "datum.c == 'ctl' && datum.k == '0.1'"}], "layer": [
{"transform": [{"filter": "isValid(datum.t)"}], "mark": {"type": "line", "style": "trace"}, "encoding": {"x": {"field": "t", "type": "quantitative", "scale": {"domain": [0, 800], "nice": false, "zero": false}, "axis": null}, "y": {"field": "i", "type": "quantitative", "scale": {"domain": [-3.56, 1.6], "nice": false, "zero": false}, "axis": null}}},
{"transform": [{"filter": "datum.kind == 'lab'"}], "mark": {"type": "rule", "style": "appl"}, "encoding": {"x": {"datum": 75, "axis": null}, "x2": {"datum": 280}, "y": {"datum": 0.35, "axis": null}}},
{"transform": [{"filter": "datum.kind == 'lab'"}], "mark": {"type": "text", "style": "conc"}, "encoding": {"x": {"datum": 55, "axis": null}, "y": {"datum": 0.75, "axis": null}, "text": {"field": "k", "type": "nominal"}}},
{"transform": [{"filter": "datum.kind == 'note'"}], "mark": {"type": "text", "style": "note"}, "encoding": {"x": {"datum": 30, "axis": null}, "y": {"datum": -2.49, "axis": null}, "text": {"field": "txt", "type": "nominal"}}}
]},
{"width": 54, "height": 129, "transform": [{"filter": "datum.c == 'ctl' && datum.k == '1'"}], "layer": [
{"transform": [{"filter": "isValid(datum.t)"}], "mark": {"type": "line", "style": "trace"}, "encoding": {"x": {"field": "t", "type": "quantitative", "scale": {"domain": [0, 800], "nice": false, "zero": false}, "axis": null}, "y": {"field": "i", "type": "quantitative", "scale": {"domain": [-3.56, 1.6], "nice": false, "zero": false}, "axis": null}}},
{"transform": [{"filter": "datum.kind == 'lab'"}], "mark": {"type": "rule", "style": "appl"}, "encoding": {"x": {"datum": 75, "axis": null}, "x2": {"datum": 280}, "y": {"datum": 0.35, "axis": null}}},
{"transform": [{"filter": "datum.kind == 'lab'"}], "mark": {"type": "text", "style": "conc"}, "encoding": {"x": {"datum": 55, "axis": null}, "y": {"datum": 0.75, "axis": null}, "text": {"field": "k", "type": "nominal"}}}
]},
{"width": 54, "height": 129, "transform": [{"filter": "datum.c == 'ctl' && datum.k == '10'"}], "layer": [
{"transform": [{"filter": "isValid(datum.t)"}], "mark": {"type": "line", "style": "trace"}, "encoding": {"x": {"field": "t", "type": "quantitative", "scale": {"domain": [0, 800], "nice": false, "zero": false}, "axis": null}, "y": {"field": "i", "type": "quantitative", "scale": {"domain": [-3.56, 1.6], "nice": false, "zero": false}, "axis": null}}},
{"transform": [{"filter": "datum.kind == 'lab'"}], "mark": {"type": "rule", "style": "appl"}, "encoding": {"x": {"datum": 75, "axis": null}, "x2": {"datum": 280}, "y": {"datum": 0.35, "axis": null}}},
{"transform": [{"filter": "datum.kind == 'lab'"}], "mark": {"type": "text", "style": "conc"}, "encoding": {"x": {"datum": 55, "axis": null}, "y": {"datum": 0.75, "axis": null}, "text": {"field": "k", "type": "nominal"}}}
]},
{"width": 54, "height": 129, "transform": [{"filter": "datum.c == 'ctl' && datum.k == '100'"}], "layer": [
{"transform": [{"filter": "isValid(datum.t)"}], "mark": {"type": "line", "style": "trace"}, "encoding": {"x": {"field": "t", "type": "quantitative", "scale": {"domain": [0, 800], "nice": false, "zero": false}, "axis": null}, "y": {"field": "i", "type": "quantitative", "scale": {"domain": [-3.56, 1.6], "nice": false, "zero": false}, "axis": null}}},
{"transform": [{"filter": "datum.kind == 'lab'"}], "mark": {"type": "rule", "style": "appl"}, "encoding": {"x": {"datum": 75, "axis": null}, "x2": {"datum": 280}, "y": {"datum": 0.35, "axis": null}}},
{"transform": [{"filter": "datum.kind == 'lab'"}], "mark": {"type": "text", "style": "conc"}, "encoding": {"x": {"datum": 55, "axis": null}, "y": {"datum": 0.75, "axis": null}, "text": {"field": "k", "type": "nominal"}}}
]},
{"width": 54, "height": 129, "transform": [{"filter": "datum.c == 'ctl' && datum.k == '1000'"}], "layer": [
{"transform": [{"filter": "isValid(datum.t)"}], "mark": {"type": "line", "style": "trace", "clip": true}, "encoding": {"x": {"field": "t", "type": "quantitative", "scale": {"domain": [0, 800], "nice": false, "zero": false}, "axis": null}, "y": {"field": "i", "type": "quantitative", "scale": {"domain": [-3.56, 1.6], "nice": false, "zero": false}, "axis": null}}},
{"transform": [{"filter": "datum.kind == 'lab'"}], "mark": {"type": "rule", "style": "appl"}, "encoding": {"x": {"datum": 75, "axis": null}, "x2": {"datum": 280}, "y": {"datum": 0.35, "axis": null}}},
{"transform": [{"filter": "datum.kind == 'lab'"}], "mark": {"type": "text", "style": "conc"}, "encoding": {"x": {"datum": 55, "axis": null}, "y": {"datum": 0.75, "axis": null}, "text": {"field": "k", "type": "nominal"}}}
]}
], "spacing": 10, "bounds": "flush", "resolve": {"scale": {"x": "independent", "y": "independent"}}},
{"hconcat": [
{"width": 54, "height": 129, "transform": [{"filter": "datum.c == 'nic' && datum.k == '0.1'"}], "layer": [
{"transform": [{"filter": "isValid(datum.t)"}], "mark": {"type": "line", "style": "trace"}, "encoding": {"x": {"field": "t", "type": "quantitative", "scale": {"domain": [0, 800], "nice": false, "zero": false}, "axis": null}, "y": {"field": "i", "type": "quantitative", "scale": {"domain": [-3.56, 1.6], "nice": false, "zero": false}, "axis": null}}},
{"transform": [{"filter": "datum.kind == 'lab'"}], "mark": {"type": "rule", "style": "appl"}, "encoding": {"x": {"datum": 75, "axis": null}, "x2": {"datum": 280}, "y": {"datum": 0.35, "axis": null}}},
{"transform": [{"filter": "datum.kind == 'lab'"}], "mark": {"type": "text", "style": "conc"}, "encoding": {"x": {"datum": 55, "axis": null}, "y": {"datum": 0.75, "axis": null}, "text": {"field": "k", "type": "nominal"}}},
{"transform": [{"filter": "datum.kind == 'note'"}], "mark": {"type": "text", "style": "note"}, "encoding": {"x": {"datum": 45, "axis": null}, "y": {"datum": -4.48, "axis": null}, "text": {"field": "txt", "type": "nominal"}}}
]},
{"width": 54, "height": 129, "transform": [{"filter": "datum.c == 'nic' && datum.k == '1'"}], "layer": [
{"transform": [{"filter": "isValid(datum.t)"}], "mark": {"type": "line", "style": "trace"}, "encoding": {"x": {"field": "t", "type": "quantitative", "scale": {"domain": [0, 800], "nice": false, "zero": false}, "axis": null}, "y": {"field": "i", "type": "quantitative", "scale": {"domain": [-3.56, 1.6], "nice": false, "zero": false}, "axis": null}}},
{"transform": [{"filter": "datum.kind == 'lab'"}], "mark": {"type": "rule", "style": "appl"}, "encoding": {"x": {"datum": 75, "axis": null}, "x2": {"datum": 280}, "y": {"datum": 0.35, "axis": null}}},
{"transform": [{"filter": "datum.kind == 'lab'"}], "mark": {"type": "text", "style": "conc"}, "encoding": {"x": {"datum": 55, "axis": null}, "y": {"datum": 0.75, "axis": null}, "text": {"field": "k", "type": "nominal"}}}
]},
{"width": 54, "height": 129, "transform": [{"filter": "datum.c == 'nic' && datum.k == '10'"}], "layer": [
{"transform": [{"filter": "isValid(datum.t)"}], "mark": {"type": "line", "style": "trace"}, "encoding": {"x": {"field": "t", "type": "quantitative", "scale": {"domain": [0, 800], "nice": false, "zero": false}, "axis": null}, "y": {"field": "i", "type": "quantitative", "scale": {"domain": [-3.56, 1.6], "nice": false, "zero": false}, "axis": null}}},
{"transform": [{"filter": "datum.kind == 'lab'"}], "mark": {"type": "rule", "style": "appl"}, "encoding": {"x": {"datum": 75, "axis": null}, "x2": {"datum": 280}, "y": {"datum": 0.35, "axis": null}}},
{"transform": [{"filter": "datum.kind == 'lab'"}], "mark": {"type": "text", "style": "conc"}, "encoding": {"x": {"datum": 55, "axis": null}, "y": {"datum": 0.75, "axis": null}, "text": {"field": "k", "type": "nominal"}}}
]},
{"width": 54, "height": 129, "transform": [{"filter": "datum.c == 'nic' && datum.k == '100'"}], "layer": [
{"transform": [{"filter": "isValid(datum.t)"}], "mark": {"type": "line", "style": "trace"}, "encoding": {"x": {"field": "t", "type": "quantitative", "scale": {"domain": [0, 800], "nice": false, "zero": false}, "axis": null}, "y": {"field": "i", "type": "quantitative", "scale": {"domain": [-3.56, 1.6], "nice": false, "zero": false}, "axis": null}}},
{"transform": [{"filter": "datum.kind == 'lab'"}], "mark": {"type": "rule", "style": "appl"}, "encoding": {"x": {"datum": 75, "axis": null}, "x2": {"datum": 280}, "y": {"datum": 0.35, "axis": null}}},
{"transform": [{"filter": "datum.kind == 'lab'"}], "mark": {"type": "text", "style": "conc"}, "encoding": {"x": {"datum": 55, "axis": null}, "y": {"datum": 0.75, "axis": null}, "text": {"field": "k", "type": "nominal"}}}
]},
{"width": 54, "height": 129, "transform": [{"filter": "datum.c == 'nic' && datum.k == '1000'"}], "layer": [
{"transform": [{"filter": "isValid(datum.t)"}], "mark": {"type": "line", "style": "trace"}, "encoding": {"x": {"field": "t", "type": "quantitative", "scale": {"domain": [0, 800], "nice": false, "zero": false}, "axis": null}, "y": {"field": "i", "type": "quantitative", "scale": {"domain": [-3.56, 1.6], "nice": false, "zero": false}, "axis": null}}},
{"transform": [{"filter": "datum.kind == 'lab'"}], "mark": {"type": "rule", "style": "appl"}, "encoding": {"x": {"datum": 75, "axis": null}, "x2": {"datum": 280}, "y": {"datum": 0.35, "axis": null}}},
{"transform": [{"filter": "datum.kind == 'lab'"}], "mark": {"type": "text", "style": "conc"}, "encoding": {"x": {"datum": 55, "axis": null}, "y": {"datum": 0.75, "axis": null}, "text": {"field": "k", "type": "nominal"}}},
{"transform": [{"filter": "datum.kind == 'scale'"}], "mark": {"type": "rule", "style": "sbar"}, "encoding": {"x": {"datum": 770, "axis": null}, "y": {"datum": -3.66, "axis": null}, "y2": {"datum": -4.66}}},
{"transform": [{"filter": "datum.kind == 'scale'"}], "mark": {"type": "rule", "style": "sbar"}, "encoding": {"x": {"datum": 370, "axis": null}, "x2": {"datum": 770}, "y": {"datum": -4.66, "axis": null}}},
{"transform": [{"filter": "datum.kind == 'scale'"}], "mark": {"type": "text", "style": "stext", "align": "left"}, "encoding": {"x": {"datum": 903, "axis": null}, "y": {"datum": -4.1, "axis": null}, "text": {"value": "1 nA"}}},
{"transform": [{"filter": "datum.kind == 'scale'"}], "mark": {"type": "text", "style": "stext", "align": "center"}, "encoding": {"x": {"datum": 711, "axis": null}, "y": {"datum": -5.3, "axis": null}, "text": {"value": "400 ms"}}}
]}
], "spacing": 10, "bounds": "flush", "resolve": {"scale": {"x": "independent", "y": "independent"}}}
],
"spacing": 0, "resolve": {"scale": {"x": "independent", "y": "independent"}}
},
{
"title": {"text": "D", "dx": -92, "offset": 6},
"vconcat": [
{"width": 244, "height": 1, "data": {"values": [{"s": 0}]}, "mark": {"type": "point", "opacity": 0}, "encoding": {}},
{
"width": 244, "height": 238,
"encoding": {
"x": {"field": "x", "type": "quantitative", "title": "[ACh], μM",
"scale": {"type": "log", "domain": [0.01, 10000], "nice": false},
"axis": {"values": [0.01,0.02,0.03,0.04,0.05,0.06,0.07,0.08,0.09,0.1,0.2,0.3,0.4,0.5,0.6,0.7,0.8,0.9,1,2,3,4,5,6,7,8,9,10,20,30,40,50,60,70,80,90,100,200,300,400,500,600,700,800,900,1000,2000,3000,4000,5000,6000,7000,8000,9000,10000],
"offset": 9, "tickSize": {"condition": {"test": "indexof([0.01,0.1,1,10,100,1000,10000], datum.value) >= 0", "value": 9}, "value": 5},
"labelExpr": "datum.value == 0.01 ? '10⁻²' : (datum.value == 10000 ? '10⁴' : '')",
"labelFlush": false, "labelOverlap": false, "labelPadding": 6, "labelFontSize": 19,
"titleX": 122, "titleY": 25, "titleBaseline": "middle", "titleFontSize": 21.5}}
},
"layer": [
{"data": {"name": "Dfit"}, "mark": {"type": "line", "color": "#000", "strokeWidth": 1.3, "interpolate": "monotone"},
"encoding": {"y": {"field": "y", "type": "quantitative", "title": "current amplitude, nA", "scale": {"domain": [0, 5], "nice": false},
"axis": {"values": [0, 1, 2, 3, 4, 5], "format": "d", "offset": 6, "tickSize": 6, "labelPadding": 4, "titleX": -47, "titleY": 143, "titleFontSize": 23}},
"detail": {"field": "g", "type": "nominal"}}},
{"data": {"name": "Dpts"}, "transform": [{"filter": "isValid(datum.lo)"}], "mark": {"type": "errorbar", "color": "#000", "ticks": {"size": 8, "thickness": 1.2}, "rule": {"strokeWidth": 1.2}},
"encoding": {"y": {"field": "lo", "type": "quantitative", "title": "current amplitude, nA"}, "y2": {"field": "hi"}}},
{"data": {"name": "Dpts"}, "mark": {"type": "point", "filled": true, "strokeWidth": 1.2, "opacity": 1, "size": 190},
"encoding": {"y": {"field": "y", "type": "quantitative", "title": "current amplitude, nA"},
"shape": {"field": "g", "type": "nominal", "scale": {"domain": ["0", "0.1", "1"], "range": ["circle", "square", "triangle-down"]},
"legend": {"title": ["8-10h μM", "nicotine"], "orient": "none", "legendX": -3, "legendY": 0, "symbolSize": 190, "symbolOffset": 7, "labelOffset": 14, "rowPadding": 6, "titlePadding": 9, "titleLineHeight": 21, "titleAlign": "center", "titleAnchor": "middle", "padding": 0, "symbolStrokeWidth": 1.2}},
"fill": {"field": "g", "type": "nominal", "scale": {"domain": ["0", "0.1", "1"], "range": ["#ffffff", "#000000", "#ffffff"]},
"legend": {"title": ["8-10h μM", "nicotine"], "orient": "none", "legendX": -3, "legendY": 0, "symbolSize": 190, "symbolOffset": 7, "labelOffset": 14, "rowPadding": 6, "titlePadding": 9, "titleLineHeight": 21, "titleAlign": "center", "titleAnchor": "middle", "padding": 0, "symbolStrokeWidth": 1.2}},
"stroke": {"field": "g", "type": "nominal", "scale": {"domain": ["0", "0.1", "1"], "range": ["#000000", "#000000", "#000000"]},
"legend": {"title": ["8-10h μM", "nicotine"], "orient": "none", "legendX": -3, "legendY": 0, "symbolSize": 190, "symbolOffset": 7, "labelOffset": 14, "rowPadding": 6, "titlePadding": 9, "titleLineHeight": 21, "titleAlign": "center", "titleAnchor": "middle", "padding": 0, "symbolStrokeWidth": 1.2}}}}
]
}
],
"spacing": -7
}
],
"spacing": -5,
"resolve": {"scale": {"x": "independent", "y": "independent", "shape": "independent", "fill": "independent", "stroke": "independent"}, "legend": {"shape": "independent", "fill": "independent", "stroke": "independent"}}
}
],
"spacing": 26,
"resolve": {"scale": {"x": "independent", "y": "independent", "shape": "independent", "fill": "independent", "stroke": "independent"}, "legend": {"shape": "independent", "fill": "independent", "stroke": "independent"}},
"config": {
"view": {"stroke": "transparent"},
"font": "DejaVu Sans",
"style": {
"trace": {"color": "#000", "strokeWidth": 1.3},
"appl": {"color": "#000", "strokeWidth": 2},
"conc": {"align": "left", "baseline": "middle", "font": "Liberation Sans", "fontSize": 13, "color": "#000"},
"note": {"align": "left", "baseline": "alphabetic", "fontSize": 17, "color": "#000"},
"sbar": {"color": "#000", "strokeWidth": 1.3},
"stext": {"baseline": "middle", "fontSize": 15, "color": "#000"}
},
"axis": {"grid": false, "domainColor": "#000", "domainWidth": 1.3, "tickColor": "#000", "tickWidth": 1.3, "labelColor": "#000", "titleColor": "#000", "labelFont": "DejaVu Sans", "titleFont": "DejaVu Sans", "labelFontSize": 20, "titleFontWeight": "normal"},
"legend": {"labelFont": "DejaVu Sans", "titleFont": "DejaVu Sans", "labelFontSize": 17, "titleFontSize": 17, "titleFontWeight": "normal", "labelColor": "#000", "titleColor": "#000"},
"title": {"font": "DejaVu Sans", "fontSize": 18, "fontWeight": "bold", "color": "#000", "anchor": "start", "frame": "group"},
"text": {"color": "#000"}
}
}
